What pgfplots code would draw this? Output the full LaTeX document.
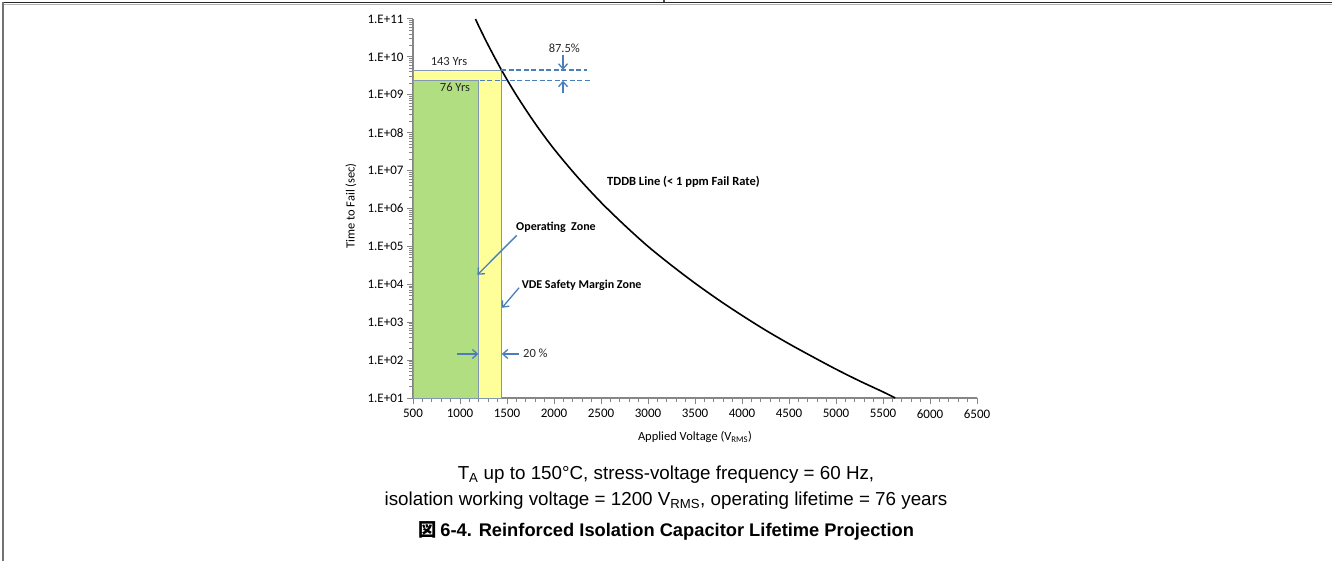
\documentclass[border=0pt]{standalone}
\usepackage{fontspec}
\setmainfont{Carlito}
\newfontfamily\arialfont{Liberation Sans}
\newfontfamily\cjk{Noto Sans CJK JP}
\usepackage{pgfplots}
\pgfplotsset{compat=1.18}
\usetikzlibrary{arrows.meta}

\definecolor{zonegreen}{RGB}{178,222,130}
\definecolor{zoneyellow}{RGB}{255,255,153}
\definecolor{zoneedge}{RGB}{132,151,176}
\definecolor{xlblue}{RGB}{74,126,187}
\definecolor{axisgray}{RGB}{134,134,134}

\tikzset{
  xlarrow/.style={xlblue, line width=1.3pt, -{Straight Barb[length=5pt,width=9pt]}},
  xldash/.style={xlblue, line width=1.3pt, dash pattern=on 5pt off 2.5pt},
}

\begin{document}
\begin{tikzpicture}
\useasboundingbox (0pt,0pt) rectangle (1332pt,-561pt);
% page frame
\draw[line width=1.6pt, black!85] (3pt,-2.5pt) -- (1332pt,-2.5pt);
\draw[line width=0.6pt, black!30] (3pt,-4.5pt) -- (1332pt,-4.5pt);
\draw[line width=1.2pt, black!55] (3pt,-2pt) -- (3pt,-561pt);
\draw[line width=1.2pt, black!70] (664pt,0pt) -- (664pt,-2.5pt);

\begin{axis}[
  at={(413pt,-398pt)}, anchor=south west,
  scale only axis, width=564pt, height=379pt,
  ymode=log,
  xmin=500, xmax=6500, ymin=10, ymax=1e11,
  axis x line*=bottom, axis y line*=left,
  axis line style={axisgray, line width=1.2pt, -},
  xtick={500,1000,...,6500}, minor x tick num=4,
  scaled x ticks=false,
  ytick={1e1,1e2,1e3,1e4,1e5,1e6,1e7,1e8,1e9,1e10,1e11},
  yticklabels={1.E+01,1.E+02,1.E+03,1.E+04,1.E+05,1.E+06,1.E+07,1.E+08,1.E+09,1.E+10,1.E+11},
  /pgf/number format/.cd, 1000 sep={}, assume math mode=true, /pgfplots/.cd,
  tick style={axisgray, line width=1pt},
  major tick length=6pt, minor tick length=4pt, tick align=outside,
  tick label style={font=\fontsize{13}{15}\selectfont, black},
  xticklabel style={yshift=-2pt},
  clip=false,
]

% VDE safety margin zone (1.2 x 1200 V, 143 years)
\addplot[fill=zoneyellow, draw=zoneedge, line width=1pt]
  coordinates {(500,10) (500,4.51e9) (1440,4.51e9) (1440,10)} -- cycle;
% operating zone (1200 V, 76 years)
\addplot[fill=zonegreen, draw=zoneedge, line width=1pt]
  coordinates {(500,10) (500,2.4e9) (1200,2.4e9) (1200,10)} -- cycle;

% TDDB line
\addplot[black, line width=1.6pt, smooth]
  coordinates {
  (1165,1.0e11)(1200,6.46e10)(1300,2.04e10)(1440,4.57e9)(1600,9.77e8)
  (1800,1.74e8)(2000,3.72e7)(2250,6.76e6)(2500,1.45e6)(2750,3.63e5)
  (3000,1.0e5)(3250,3.16e4)(3500,1.07e4)(3750,3.89e3)(4000,1.51e3)
  (4250,617)(4500,269)(4750,123)(5000,57.5)(5250,28.2)(5500,14.5)(5630,10)
  };

% margin lines
\draw[xldash] (axis cs:1440,4.51e9) -- (axis cs:2350,4.51e9);
\draw[xldash] (axis cs:1210,2.4e9) -- (axis cs:2380,2.4e9);
\draw[xlarrow] (axis cs:2096,1.12e10) -- (axis cs:2096,4.6e9);
\draw[xlarrow] (axis cs:2096,1.1e9) -- (axis cs:2096,2.35e9);
\node[font=\fontsize{12.5}{14}\selectfont, black!85] at (axis cs:2110,1.7e10) {87.5\%};

\node[font=\fontsize{12.5}{14}\selectfont, black!85] at (axis cs:883,7.7e9) {143 Yrs};
\node[font=\fontsize{12.5}{14}\selectfont, black!85] at (axis cs:947,1.58e9) {76 Yrs};

\node[font=\fontsize{12.5}{14}\selectfont\bfseries, anchor=west, inner sep=0pt] at (axis cs:2564,4.9e6) {TDDB Line (< 1 ppm Fail Rate)};
\node[font=\fontsize{12}{14}\selectfont\bfseries, anchor=west, inner sep=0pt] at (axis cs:1596,3.1e5) {Operating~~Zone};
\node[font=\fontsize{12}{14}\selectfont\bfseries, anchor=west, inner sep=0pt] at (axis cs:1655,9.5e3) {VDE Safety Margin Zone};
\node[font=\fontsize{12.5}{14}\selectfont, anchor=west, inner sep=0pt, black!85] at (axis cs:1670,150) {20 \%};

\draw[xlarrow] (axis cs:1603,1.95e5) -- (axis cs:1185,1.78e4);
\draw[xlarrow] (axis cs:1628,8.1e3) -- (axis cs:1447,2.4e3);
\draw[xlarrow] (axis cs:968,145) -- (axis cs:1195,145);
\draw[xlarrow] (axis cs:1628,145) -- (axis cs:1445,145);
\end{axis}

% axis titles
\node[rotate=90, font=\fontsize{12.5}{14}\selectfont] at (351pt,-206pt) {Time to Fail (sec)};
\node[font=\fontsize{12.5}{14}\selectfont] at (695pt,-437pt) {Applied Voltage (V\textsubscript{RMS})};

% captions
\node[anchor=base, font=\arialfont\fontsize{18.8}{21}\selectfont] at (666pt,-479pt) {T\textsubscript{A} up to 150°C, stress-voltage frequency = 60 Hz,};
\node[anchor=base, font=\arialfont\fontsize{18.8}{21}\selectfont] at (666pt,-505pt) {isolation working voltage = 1200 V\textsubscript{RMS}, operating lifetime = 76 years};
\node[anchor=base, font=\fontsize{18.3}{21}\selectfont\bfseries] at (666pt,-536pt) {{\cjk 図} {\arialfont 6-4. Reinforced Isolation Capacitor Lifetime Projection}};
\end{tikzpicture}
\end{document}
